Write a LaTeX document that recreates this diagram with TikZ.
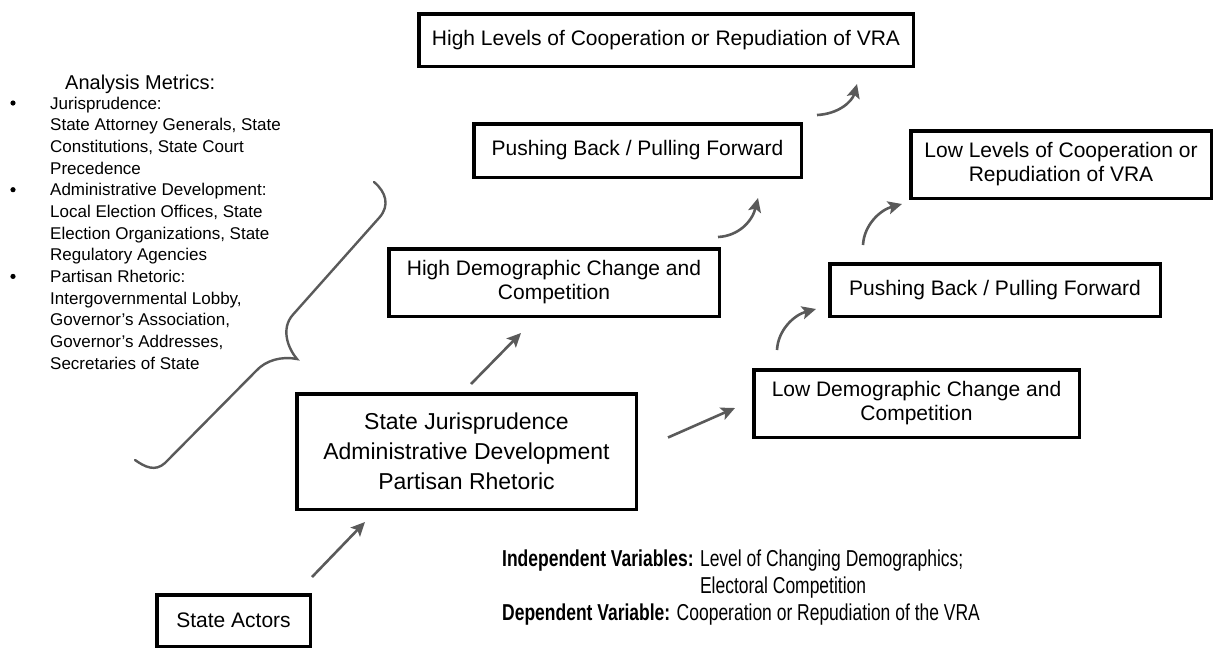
\documentclass[tikz,border=0pt]{standalone}
\usepackage{fontspec}
\setmainfont{Liberation Sans}
\newfontfamily\narrowfont[FakeStretch=0.76]{Liberation Sans}
\usetikzlibrary{arrows.meta,calc}
\definecolor{arrowgray}{HTML}{5A5A5A}
\begin{document}
\begin{tikzpicture}[x=1pt,y=-1pt,
  box/.style={draw=black,line width=3.5pt,inner sep=0pt,align=center,font=\fontsize{21}{24}\selectfont},
  arr/.style={draw=arrowgray,line width=2.6pt,-{Stealth[length=14pt,width=13pt,inset=3pt]}},
  bracestyle/.style={draw=arrowgray,line width=2.4pt,line cap=round},
  listtext/.style={anchor=north west,inner sep=0pt,align=left,font=\fontsize{17}{21.67}\selectfont},
  vartext/.style={anchor=base west,inner sep=0pt,font=\narrowfont\fontsize{23}{27}\selectfont},
]
\useasboundingbox (0,0) rectangle (1214,649);

% boxes
\node[box,minimum width=494.5pt,minimum height=52.5pt] (top) at (666,40) {High Levels of Cooperation or Repudiation of VRA};
\node[box,minimum width=327.5pt,minimum height=53.5pt] (pb1) at (637.5,150.5) {Pushing Back / Pulling Forward};
\node[box,minimum width=300.5pt,minimum height=67.5pt] (lowlev) at (1061,164.5) {Low Levels of Cooperation or\\Repudiation of VRA};
\node[box,minimum width=330.5pt,minimum height=67.5pt] (hd) at (554,282.5) {High Demographic Change and\\Competition};
\node[box,minimum width=330.5pt,minimum height=52.5pt] (pb2) at (995,290) {Pushing Back / Pulling Forward};
\node[box,minimum width=325.5pt,minimum height=67.5pt] (ld) at (916.5,403.5) {Low Demographic Change and\\Competition};
\node[box,minimum width=339.5pt,minimum height=115.5pt,font=\fontsize{23}{30}\selectfont] (main) at (466.5,451.5) {State Jurisprudence\\Administrative Development\\Partisan Rhetoric};
\node[box,minimum width=153.5pt,minimum height=51.5pt] (sa) at (233.5,620.5) {State Actors};

% straight arrows
\draw[arr] ($(sa.north east)+(0,-16)$) -- ($(main.south west)+(70,11)$);
\draw[arr] ($(main.north west)+(176,-8)$) -- ($(hd.south west)+(134,15)$);
\draw[arr] ($(main.east)+(30,-14)$) -- ($(ld.west)+(-17,4.5)$);

% curved arrows
\draw[arr] ($(hd.north east)+(-3,-10)$) .. controls +(20,-1) and +(-6,24) .. ($(pb1.south west)+(286,19)$);
\draw[arr] ($(pb1.north east)+(14,-7)$) .. controls +(21,-1) and +(-5,18) .. ($(top.south west)+(440,16)$);
\draw[arr] ($(ld.north west)+(25,-18)$) .. controls +(1,-20) and +(-22,6) .. ($(pb2.south west)+(-12,-9)$);
\draw[arr] ($(pb2.north west)+(35,-17)$) .. controls +(1,-20) and +(-22,6) .. ($(lowlev.south west)+(-7,4)$);

% brace
\draw[bracestyle] (374,182) .. controls (386,192) and (390,205.5) .. (379.4,217.5)
  -- (293,314.6) .. controls (281,328) and (287,347) .. (297,359)
  .. controls (282,356) and (266,360) .. (256,371)
  -- (165,463) .. controls (155,472) and (145,467) .. (135,460);

% analysis metrics
\node[anchor=base west,inner sep=0pt,font=\fontsize{20}{24}\selectfont] (title) at (65,89) {Analysis Metrics:};
\node[listtext] (metrics) at (50,96.5) {Jurisprudence:\\
State Attorney Generals, State\\
Constitutions, State Court\\
Precedence\\
Administrative Development:\\
Local Election Offices, State\\
Election Organizations, State\\
Regulatory Agencies\\
Partisan Rhetoric:\\
Intergovernmental Lobby,\\
Governor’s Association,\\
Governor’s Addresses,\\
Secretaries of State};
\fill (13,103) circle (2.6);
\fill (13,189.7) circle (2.6);
\fill (13,276.4) circle (2.6);

% variables
\node[vartext] (iv1) at (502,566) {\textbf{Independent Variables:} Level of Changing Demographics;};
\node[vartext] (iv2) at (502,593) {\phantom{\textbf{Independent Variables:} }Electoral Competition};
\node[vartext] (dv) at (502,620) {\textbf{Dependent Variable:} Cooperation or Repudiation of the VRA};
\end{tikzpicture}
\end{document}
